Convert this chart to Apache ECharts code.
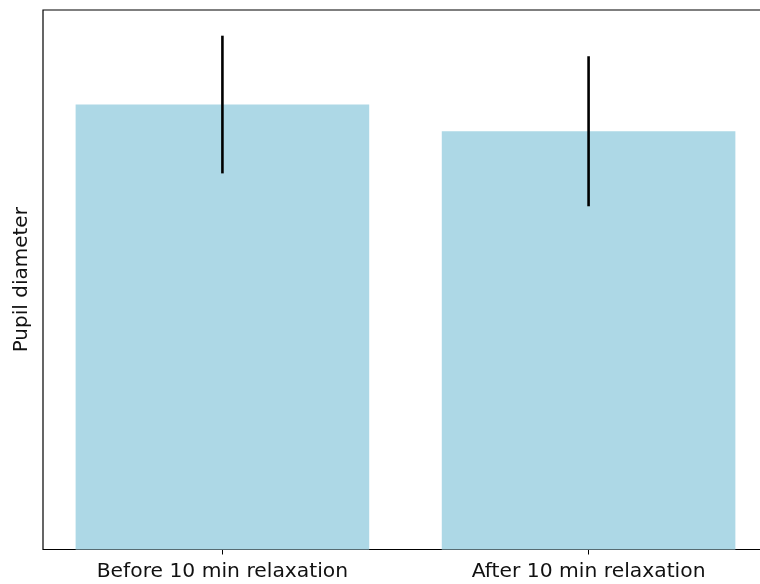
<!DOCTYPE html>
<html>
<head>
<meta charset="utf-8">
<script src="https://cdn.jsdelivr.net/npm/echarts@6/dist/echarts.min.js"></script>
<style>
  html, body { margin: 0; padding: 0; background: #fff; }
  #chart { width: 760px; height: 584px; }
</style>
</head>
<body>
<div id="chart"></div>
<script>
// Mean pupil diameter before and after relaxation, with error bars
const categories = ['Before 10 min relaxation', 'After 10 min relaxation'];
const means = [4.33, 4.07];
const errors = [0.67, 0.73];

const positions = categories.map((_, i) => i);
const barData = means.map((v, i) => [positions[i], v]);
const errData = means.map((v, i) => [positions[i], v - errors[i], v + errors[i]]);
const yMax = Math.max(...means.map((v, i) => v + errors[i])) * 1.05;

const chart = echarts.init(document.getElementById('chart'), null, { renderer: 'canvas' });
const font = 'DejaVu Sans';

chart.setOption({
  animation: false,
  backgroundColor: '#ffffff',
  grid: {
    left: 43, top: 10, width: 725, height: 539.5,
    show: true, borderColor: '#000', borderWidth: 1.2,
    containLabel: false, outerBoundsMode: 'none'
  },
  xAxis: {
    type: 'value',
    min: -0.49, max: 1.49,
    splitLine: { show: false },
    axisLine: { show: false },
    axisTick: { show: true, customValues: positions, length: 5, lineStyle: { color: '#000', width: 1 } },
    axisLabel: {
      customValues: positions,
      formatter: v => categories[Math.round(v)] || '',
      color: '#111', fontFamily: font, fontSize: 20.3, margin: 12
    }
  },
  yAxis: {
    type: 'value',
    min: 0, max: yMax,
    name: 'Pupil diameter',
    nameLocation: 'middle',
    nameGap: 11,
    nameTextStyle: { color: '#111', fontFamily: font, fontSize: 20 },
    splitLine: { show: false },
    axisLine: { show: false },
    axisTick: { show: false },
    axisLabel: { show: false }
  },
  series: [
    {
      type: 'bar',
      data: barData,
      barWidth: 293.6,
      itemStyle: { color: '#ADD8E6' },
      z: 1
    },
    {
      type: 'custom',
      data: errData,
      z: 3,
      renderItem: function (params, api) {
        const lo = api.coord([api.value(0), api.value(1)]);
        const hi = api.coord([api.value(0), api.value(2)]);
        return {
          type: 'line',
          shape: { x1: lo[0], y1: lo[1], x2: hi[0], y2: hi[1] },
          style: { stroke: '#000', lineWidth: 2.6 }
        };
      }
    }
  ]
});
</script>
</body>
</html>
